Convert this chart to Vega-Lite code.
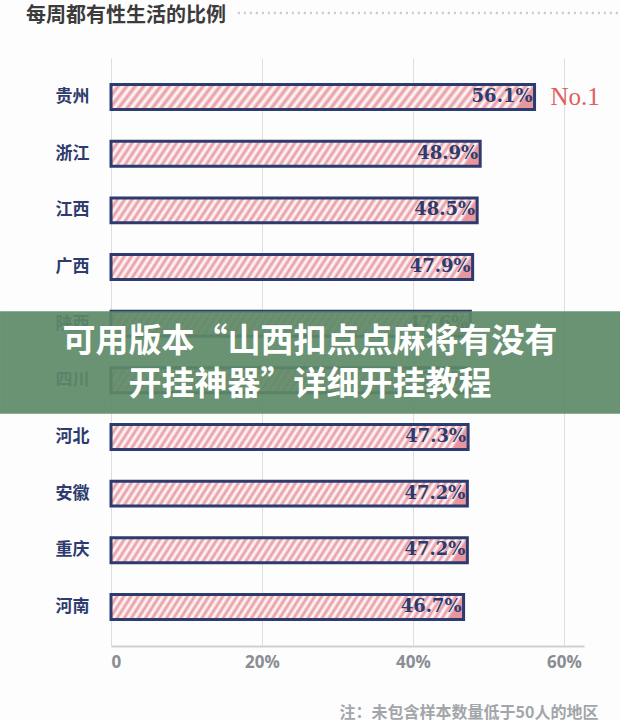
{
  "$schema": "https://vega.github.io/schema/vega-lite/v6.json",
  "width": 473,
  "height": 588,
  "padding": {"left": 0, "right": 0, "top": 5, "bottom": 0},
  "background": "#fdfdfd",
  "title": {
    "text": "每周都有性生活的比例",
    "anchor": "start",
    "frame": "bounds",
    "dx": 26,
    "offset": -14,
    "font": "Noto Sans CJK SC",
    "fontSize": 20,
    "fontWeight": "bold",
    "color": "#3b3b3b"
  },
  "config": {"view": {"stroke": null}},
  "data": {
    "values": [
      {"region": "贵州", "value": 0.561},
      {"region": "浙江", "value": 0.489},
      {"region": "江西", "value": 0.485},
      {"region": "广西", "value": 0.479},
      {"region": "陕西", "value": 0.476},
      {"region": "四川", "value": 0.475},
      {"region": "河北", "value": 0.473},
      {"region": "安徽", "value": 0.472},
      {"region": "重庆", "value": 0.472},
      {"region": "河南", "value": 0.467}
    ]
  },
  "layer": [
    {
      "mark": {
        "type": "bar",
        "stroke": "#2d3b6e",
        "strokeWidth": 3,
        "fill": {
          "gradient": "linear",
          "x1": 0, "y1": 0, "x2": 1, "y2": 0.045,
          "stops": [
            {"offset": 0, "color": "#e8979f"}, {"offset": 0.01, "color": "#fff"},
            {"offset": 0.02, "color": "#e8979f"}, {"offset": 0.03, "color": "#fff"},
            {"offset": 0.04, "color": "#e8979f"}, {"offset": 0.05, "color": "#fff"},
            {"offset": 0.06, "color": "#e8979f"}, {"offset": 0.07, "color": "#fff"},
            {"offset": 0.08, "color": "#e8979f"}, {"offset": 0.09, "color": "#fff"},
            {"offset": 0.10, "color": "#e8979f"}, {"offset": 0.11, "color": "#fff"},
            {"offset": 0.12, "color": "#e8979f"}, {"offset": 0.13, "color": "#fff"},
            {"offset": 0.14, "color": "#e8979f"}, {"offset": 0.15, "color": "#fff"},
            {"offset": 0.16, "color": "#e8979f"}, {"offset": 0.17, "color": "#fff"},
            {"offset": 0.18, "color": "#e8979f"}, {"offset": 0.19, "color": "#fff"},
            {"offset": 0.20, "color": "#e8979f"}, {"offset": 0.21, "color": "#fff"},
            {"offset": 0.22, "color": "#e8979f"}, {"offset": 0.23, "color": "#fff"},
            {"offset": 0.24, "color": "#e8979f"}, {"offset": 0.25, "color": "#fff"},
            {"offset": 0.26, "color": "#e8979f"}, {"offset": 0.27, "color": "#fff"},
            {"offset": 0.28, "color": "#e8979f"}, {"offset": 0.29, "color": "#fff"},
            {"offset": 0.30, "color": "#e8979f"}, {"offset": 0.31, "color": "#fff"},
            {"offset": 0.32, "color": "#e8979f"}, {"offset": 0.33, "color": "#fff"},
            {"offset": 0.34, "color": "#e8979f"}, {"offset": 0.35, "color": "#fff"},
            {"offset": 0.36, "color": "#e8979f"}, {"offset": 0.37, "color": "#fff"},
            {"offset": 0.38, "color": "#e8979f"}, {"offset": 0.39, "color": "#fff"},
            {"offset": 0.40, "color": "#e8979f"}, {"offset": 0.41, "color": "#fff"},
            {"offset": 0.42, "color": "#e8979f"}, {"offset": 0.43, "color": "#fff"},
            {"offset": 0.44, "color": "#e8979f"}, {"offset": 0.45, "color": "#fff"},
            {"offset": 0.46, "color": "#e8979f"}, {"offset": 0.47, "color": "#fff"},
            {"offset": 0.48, "color": "#e8979f"}, {"offset": 0.49, "color": "#fff"},
            {"offset": 0.50, "color": "#e8979f"}, {"offset": 0.51, "color": "#fff"},
            {"offset": 0.52, "color": "#e8979f"}, {"offset": 0.53, "color": "#fff"},
            {"offset": 0.54, "color": "#e8979f"}, {"offset": 0.55, "color": "#fff"},
            {"offset": 0.56, "color": "#e8979f"}, {"offset": 0.57, "color": "#fff"},
            {"offset": 0.58, "color": "#e8979f"}, {"offset": 0.59, "color": "#fff"},
            {"offset": 0.60, "color": "#e8979f"}, {"offset": 0.61, "color": "#fff"},
            {"offset": 0.62, "color": "#e8979f"}, {"offset": 0.63, "color": "#fff"},
            {"offset": 0.64, "color": "#e8979f"}, {"offset": 0.65, "color": "#fff"},
            {"offset": 0.66, "color": "#e8979f"}, {"offset": 0.67, "color": "#fff"},
            {"offset": 0.68, "color": "#e8979f"}, {"offset": 0.69, "color": "#fff"},
            {"offset": 0.70, "color": "#e8979f"}, {"offset": 0.71, "color": "#fff"},
            {"offset": 0.72, "color": "#e8979f"}, {"offset": 0.73, "color": "#fff"},
            {"offset": 0.74, "color": "#e8979f"}, {"offset": 0.75, "color": "#fff"},
            {"offset": 0.76, "color": "#e8979f"}, {"offset": 0.77, "color": "#fff"},
            {"offset": 0.78, "color": "#e8979f"}, {"offset": 0.79, "color": "#fff"},
            {"offset": 0.80, "color": "#e8979f"}, {"offset": 0.81, "color": "#fff"},
            {"offset": 0.82, "color": "#e8979f"}, {"offset": 0.83, "color": "#fff"},
            {"offset": 0.84, "color": "#e8979f"}, {"offset": 0.85, "color": "#fff"},
            {"offset": 0.86, "color": "#e8979f"}, {"offset": 0.87, "color": "#fff"},
            {"offset": 0.88, "color": "#e8979f"}, {"offset": 0.89, "color": "#fff"},
            {"offset": 0.90, "color": "#e8979f"}, {"offset": 0.91, "color": "#fff"},
            {"offset": 0.92, "color": "#e8979f"}, {"offset": 0.93, "color": "#fff"},
            {"offset": 0.94, "color": "#e8979f"}, {"offset": 0.95, "color": "#fff"},
            {"offset": 0.96, "color": "#e8979f"}, {"offset": 0.97, "color": "#fff"},
            {"offset": 0.98, "color": "#e8979f"}, {"offset": 0.99, "color": "#fff"},
            {"offset": 1, "color": "#e8979f"}
          ]
        }
      },
      "encoding": {
        "y": {
          "field": "region",
          "type": "nominal",
          "scale": {
            "domain": ["贵州", "浙江", "江西", "广西", "陕西", "四川", "河北", "安徽", "重庆", "河南"],
            "paddingInner": 0.56,
            "paddingOuter": 0.47
          },
          "axis": {
            "title": null,
            "domain": false,
            "ticks": false,
            "grid": false,
            "labelFont": "Noto Sans CJK SC",
            "labelFontSize": 17,
            "labelFontWeight": "bold",
            "labelColor": "#2d3b6e",
            "labelPadding": 22
          }
        },
        "x": {
          "field": "value",
          "type": "quantitative",
          "scale": {"domain": [0, 0.6265], "nice": false, "zero": true},
          "axis": {
            "values": [0, 0.2, 0.4, 0.6],
            "labelExpr": "datum.value == 0 ? '0' : format(datum.value, '.0%')",
            "grid": true,
            "gridColor": "#dedede",
            "gridWidth": 1,
            "domainColor": "#cfcfcf",
            "domainWidth": 2,
            "ticks": false,
            "labelFont": "Open Sans",
            "labelFontSize": 17,
            "labelFontWeight": "bold",
            "labelColor": "#8a8d93",
            "labelPadding": 8,
            "title": "注：未包含样本数量低于50人的地区",
            "titleFont": "Noto Sans CJK SC",
            "titleFontSize": 16,
            "titleFontWeight": "bold",
            "titleColor": "#a2a5aa",
            "titleAnchor": "end",
            "titleAlign": "right",
            "titleX": 487,
            "titlePadding": 34
          }
        }
      }
    },
    {
      "mark": {
        "type": "text",
        "align": "right",
        "baseline": "middle",
        "dx": -2,
        "font": "DejaVu Serif",
        "fontSize": 18,
        "fontWeight": "bold",
        "fill": "#2d3b6e"
      },
      "encoding": {
        "y": {"field": "region", "type": "nominal"},
        "x": {"field": "value", "type": "quantitative"},
        "text": {"field": "value", "type": "quantitative", "format": ".1%"}
      }
    },
    {
      "transform": [{"filter": {"field": "region", "equal": "贵州"}}],
      "mark": {
        "type": "text",
        "align": "left",
        "baseline": "middle",
        "dx": 16,
        "font": "Liberation Serif",
        "fontSize": 25,
        "fill": "#e0605f"
      },
      "encoding": {
        "y": {"field": "region", "type": "nominal"},
        "x": {"field": "value", "type": "quantitative"},
        "text": {"value": "No.1"}
      }
    },
    {
      "data": {"values": [{"from": "陕西", "to": "四川"}]},
      "mark": {
        "type": "rule",
        "stroke": "#cacaca",
        "strokeWidth": 2.5,
        "strokeDash": [2, 4],
        "yOffset": -84
      },
      "encoding": {
        "x": {"datum": 0.168, "type": "quantitative"},
        "x2": {"datum": 0.6742},
        "y": {"datum": "贵州", "type": "nominal"}
      }
    },
    {
      "data": {"values": [{"from": "陕西", "to": "四川"}]},
      "mark": {
        "type": "rect",
        "fill": "#5d8a67",
        "opacity": 0.92,
        "y2Offset": 21
      },
      "encoding": {
        "x": {"datum": -0.147, "type": "quantitative"},
        "x2": {"datum": 0.6742},
        "y": {"field": "from", "type": "nominal", "bandPosition": 0},
        "y2": {"field": "to", "bandPosition": 1}
      }
    },
    {
      "data": {"values": [{"from": "陕西", "to": "四川"}]},
      "mark": {
        "type": "text",
        "align": "center",
        "baseline": "middle",
        "dy": -38,
        "font": "Noto Sans CJK SC",
        "fontSize": 33,
        "fontWeight": "bold",
        "fill": "#ffffff",
        "lineHeight": 43
      },
      "encoding": {
        "x": {"datum": 0.2636, "type": "quantitative"},
        "y": {"field": "to", "type": "nominal"},
        "text": {"value": ["可用版本“山西扣点点麻将有没有", "开挂神器”详细开挂教程"]}
      }
    }
  ]
}
